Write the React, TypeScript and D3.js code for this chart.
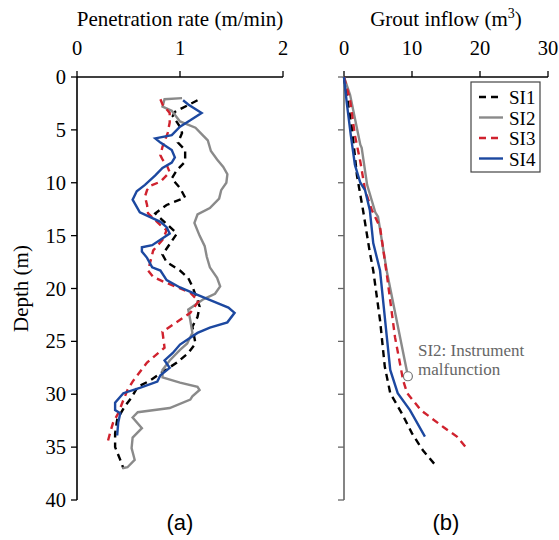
import React from "react";
import * as d3 from "d3";

// penetration rate (m/min) vs depth (m): [depth, rate]
const penSI1: [number, number][] = [
  [2.2, 1.17], [3.3, 0.95], [3.7, 0.93], [4.7, 1.0], [5.3, 1.02], [6.2, 0.98], [6.9, 1.05],
  [8.0, 1.05], [8.8, 0.97], [9.6, 0.92], [10.5, 1.0], [11.4, 1.05], [12.1, 0.87], [12.9, 0.76],
  [14.8, 0.97], [16.8, 0.83], [17.5, 0.87], [18.3, 1.0], [19.0, 1.08], [19.8, 1.12], [21.1, 1.17],
  [21.7, 1.19], [22.7, 1.17], [23.6, 1.12], [25.2, 1.15], [26.1, 1.08], [27.0, 0.97], [27.9, 0.83],
  [28.7, 0.71], [29.3, 0.59], [30.3, 0.53], [31.2, 0.46], [32.4, 0.39], [33.7, 0.37], [35.0, 0.37],
  [36.2, 0.42], [37.0, 0.45],
];
const penSI2: [number, number][] = [
  [2.0, 1.02], [2.1, 0.85], [2.8, 0.83], [3.2, 0.92], [4.2, 1.0], [4.8, 1.15], [5.5, 1.22],
  [6.0, 1.27], [7.0, 1.3], [7.8, 1.36], [8.5, 1.42], [9.2, 1.46], [10.0, 1.45], [10.7, 1.4],
  [11.5, 1.38], [12.4, 1.29], [13.0, 1.17], [13.8, 1.14], [15.0, 1.19], [16.0, 1.24], [17.0, 1.26],
  [18.0, 1.29], [19.0, 1.36], [19.8, 1.39], [20.5, 1.34], [21.0, 1.23], [22.0, 1.08], [23.0, 1.1],
  [24.2, 1.12], [25.2, 1.07], [25.8, 1.0], [26.8, 0.9], [27.7, 0.83], [28.4, 0.83], [28.9, 1.0],
  [29.3, 1.17], [29.6, 1.19], [30.2, 1.12], [30.5, 1.1], [31.3, 0.9], [31.7, 0.59], [32.2, 0.54],
  [33.2, 0.63], [34.1, 0.54], [35.1, 0.53], [36.2, 0.56], [36.9, 0.49], [37.0, 0.44],
];
const penSI3: [number, number][] = [
  [2.1, 0.81], [2.6, 0.83], [3.4, 0.9], [4.3, 0.9], [5.3, 0.88], [6.6, 0.83], [7.4, 0.81],
  [7.8, 0.83], [8.3, 0.87], [9.0, 0.9], [9.9, 0.81], [10.3, 0.71], [10.7, 0.68], [11.3, 0.66],
  [12.1, 0.68], [12.9, 0.69], [14.0, 0.81], [14.5, 0.87], [15.4, 0.83], [16.4, 0.74], [18.3, 0.69],
  [18.9, 0.74], [19.4, 0.85], [19.9, 0.98], [20.4, 1.1], [21.2, 1.18], [22.3, 1.1], [23.3, 0.95],
  [24.1, 0.83], [25.6, 0.85], [27.0, 0.68], [27.9, 0.61], [28.8, 0.54], [29.6, 0.49], [30.8, 0.44],
  [31.8, 0.4], [32.7, 0.35], [33.7, 0.32], [34.8, 0.29],
];
const penSI4: [number, number][] = [
  [2.2, 1.03], [2.6, 1.08], [3.4, 1.21], [4.1, 1.1], [4.7, 1.0], [5.5, 0.92], [5.8, 0.76],
  [6.2, 0.81], [6.9, 0.92], [7.6, 0.95], [8.1, 0.92], [8.6, 0.83], [9.3, 0.76], [10.2, 0.66],
  [10.8, 0.58], [11.6, 0.54], [12.8, 0.61], [13.7, 0.81], [14.2, 0.87], [14.8, 0.9], [15.9, 0.73],
  [16.1, 0.63], [16.5, 0.63], [17.1, 0.68], [18.0, 0.73], [18.3, 0.81], [19.2, 0.87], [19.9, 1.0],
  [20.6, 1.17], [21.4, 1.37], [21.8, 1.47], [22.3, 1.53], [23.2, 1.46], [23.7, 1.29], [24.2, 1.17],
  [25.3, 1.0], [26.1, 0.93], [26.8, 0.85], [27.5, 0.9], [28.2, 0.81], [28.8, 0.78], [29.4, 0.61],
  [29.9, 0.45], [30.8, 0.37], [31.5, 0.37], [31.8, 0.42], [32.7, 0.4], [33.9, 0.39],
];

// grout inflow (m3) vs depth (m): [depth, inflow]
const groutSI1: [number, number][] = [
  [0, 0], [1.7, 0.4], [5.0, 1.2], [9.3, 1.9], [12.6, 2.8], [16.6, 3.8], [18.3, 4.3], [23.0, 5.3],
  [27.4, 6.0], [29.9, 6.8], [31.8, 8.5], [33.7, 10.0], [35.3, 11.6], [36.9, 13.7],
];
const groutSI2: [number, number][] = [
  [0, 0], [1.7, 0.9], [6.4, 2.4], [6.7, 2.6], [10.2, 3.4], [12.8, 4.6], [13.2, 5.0], [18.4, 6.3],
  [28.3, 9.4],
];
const groutSI3: [number, number][] = [
  [0, 0], [2.2, 0.9], [5.5, 1.6], [8.0, 2.4], [10.7, 3.1], [12.6, 4.1], [14.2, 5.3], [18.7, 6.3],
  [24.6, 7.5], [28.7, 8.7], [29.9, 9.3], [31.5, 11.3], [33.1, 14.6], [34.0, 16.6], [35.0, 17.9],
];
const groutSI4: [number, number][] = [
  [0, 0], [2.4, 0.4], [5.5, 1.0], [8.3, 1.6], [10.0, 2.4], [10.7, 3.1], [12.6, 3.8], [15.7, 4.3],
  [18.3, 5.3], [24.6, 6.3], [27.7, 6.8], [29.9, 7.9], [31.5, 9.7], [34.0, 11.9],
];

const seriesNames = ["SI1", "SI2", "SI3", "SI4"];
const depthTicks = [0, 5, 10, 15, 20, 25, 30, 35, 40];
const rateTicks = [0, 1, 2];
const groutTicks = [0, 10, 20, 30];

const styles = [
  { color: "#000000", dash: "7,5" },
  { color: "#8a8a8a", dash: null },
  { color: "#d0222e", dash: "7,5" },
  { color: "#1c48a0", dash: null },
];

const serif = "'Liberation Serif', 'Times New Roman', serif";
const sans = "'Liberation Sans', Arial, sans-serif";

const y = d3.scaleLinear().domain([0, 40]).range([77, 500]);
const xa = d3.scaleLinear().domain([0, 2]).range([77, 283]);
const xb = d3.scaleLinear().domain([0, 30]).range([344, 548]);

const lineA = d3
  .line<[number, number]>()
  .x((d) => xa(d[1]))
  .y((d) => y(d[0]));
const lineB = d3
  .line<[number, number]>()
  .x((d) => xb(d[1]))
  .y((d) => y(d[0]));

const Axes = ({ x, ticks, axisColor }: { x: d3.ScaleLinear<number, number>; ticks: number[]; axisColor: string }) => {
  const x0 = x.range()[0];
  const x1 = x.range()[1];
  return (
    <g>
      <line x1={x0} x2={x1} y1={y(0)} y2={y(0)} stroke="#000" strokeWidth={1.3} />
      {ticks.map((t) => (
        <g key={t}>
          <line x1={x(t)} x2={x(t)} y1={y(0)} y2={y(0) - 6} stroke="#000" strokeWidth={1.3} />
          <text x={x(t)} y={55} textAnchor="middle" fontFamily={serif} fontSize={20.5}>
            {t}
          </text>
        </g>
      ))}
      <line x1={x0} x2={x0} y1={y(0)} y2={y(40)} stroke={axisColor} strokeWidth={1.6} />
      {depthTicks.map((t) => (
        <line key={t} x1={x0 - 6} x2={x0} y1={y(t)} y2={y(t)} stroke={axisColor} strokeWidth={1.3} />
      ))}
    </g>
  );
};

const App = () => {
  const pen = [penSI1, penSI2, penSI3, penSI4];
  const grout = [groutSI1, groutSI2, groutSI3, groutSI4];
  const end2 = groutSI2[groutSI2.length - 1];
  return (
    <svg width={559} height={540} style={{ position: "absolute", left: 0, top: 0, background: "#fff" }}>
      <text x={180} y={26} textAnchor="middle" fontFamily={serif} fontSize={21}>
        Penetration rate (m/min)
      </text>
      <text x={446} y={26} textAnchor="middle" fontFamily={serif} fontSize={21}>
        Grout inflow (m<tspan dy={-8} fontSize={14}>3</tspan>
        <tspan dy={8}>)</tspan>
      </text>

      <Axes x={xa} ticks={rateTicks} axisColor="#000" />
      {depthTicks.map((t) => (
        <text key={t} x={66} y={y(t) + 7} textAnchor="end" fontFamily={serif} fontSize={20.5}>
          {t}
        </text>
      ))}
      <text
        transform={`translate(28,${y(20)}) rotate(-90)`}
        textAnchor="middle"
        fontFamily={serif}
        fontSize={21}
      >
        Depth (m)
      </text>

      <Axes x={xb} ticks={groutTicks} axisColor="#666" />

      {pen.map((s, i) => (
        <path
          key={i}
          d={lineA(s) || ""}
          fill="none"
          stroke={styles[i].color}
          strokeWidth={2.4}
          strokeDasharray={styles[i].dash || undefined}
        />
      ))}
      {grout.map((s, i) => (
        <path
          key={i}
          d={lineB(s) || ""}
          fill="none"
          stroke={styles[i].color}
          strokeWidth={2.4}
          strokeDasharray={styles[i].dash || undefined}
        />
      ))}
      <circle cx={xb(end2[1])} cy={y(end2[0])} r={4.5} fill="#fff" stroke="#777" strokeWidth={1.2} />
      <text x={418} y={356} fontFamily={serif} fontSize={17} fill="#666">
        SI2: Instrument
      </text>
      <text x={418} y={375} fontFamily={serif} fontSize={17} fill="#666">
        malfunction
      </text>

      <rect x={471} y={82} width={69} height={90} fill="#fff" stroke="#444" strokeWidth={1.2} />
      {seriesNames.map((n, i) => (
        <g key={n}>
          <line
            x1={479}
            x2={503}
            y1={97 + i * 20.5}
            y2={97 + i * 20.5}
            stroke={styles[i].color}
            strokeWidth={2.4}
            strokeDasharray={styles[i].dash || undefined}
          />
          <text x={509} y={104 + i * 20.5} fontFamily={serif} fontSize={19}>
            {n}
          </text>
        </g>
      ))}

      <text x={180} y={530} textAnchor="middle" fontFamily={sans} fontSize={22}>
        (a)
      </text>
      <text x={446} y={530} textAnchor="middle" fontFamily={sans} fontSize={22}>
        (b)
      </text>
    </svg>
  );
};

export default App;
